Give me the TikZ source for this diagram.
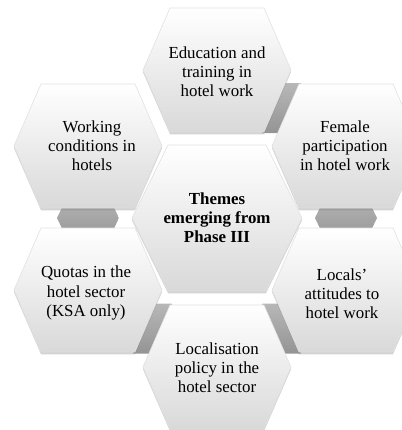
\documentclass[tikz,border=0pt]{standalone}
\usepackage{fontspec}
\setmainfont{Liberation Serif}
\usetikzlibrary{calc, shadows}

\tikzset{
  hexbox/.style={top color=white, bottom color=black!15, draw=black!12, line width=0.4pt,
    drop shadow={opacity=0.35, shadow xshift=0pt, shadow yshift=-1.6pt}},
  hexlink/.style={top color=black!28, bottom color=black!42, draw=none},
  hextext/.style={align=center, inner sep=0pt, font=\fontsize{12}{13.6}\selectfont},
}

% flat-topped hexagon: style, centre, half width, half height, slant
\newcommand{\hexagon}[5][hexbox]{%
  \path[#1] (#2) ++(-#3,0) -- ++(#5,-#4) -- ++({2*(#3-#5)},0) -- ++(#5,#4)
    -- ++(-#5,#4) -- ++({-2*(#3-#5)},0) -- cycle;}

\begin{document}
\begin{tikzpicture}[x=0.025cm, y=-0.025cm]

    \useasboundingbox (0,0) rectangle (402,430);

    % centres
    \coordinate (cMid) at (217,218);
    \coordinate (cTop) at (217,70);
    \coordinate (cFem) at (346,146);
    \coordinate (cLoc) at (346,290);
    \coordinate (cPol) at (217,367);
    \coordinate (cQuo) at (88,290);
    \coordinate (cWrk) at (88,146);

    % small grey links between neighbours
    \foreach \a/\b in {cTop/cFem, cFem/cLoc, cLoc/cPol, cPol/cQuo, cQuo/cWrk}
        \hexagon[hexlink]{$(\a)!0.5!(\b)$}{31}{25}{12};

    % outer hexagons
    \foreach \c in {cTop, cFem, cLoc, cPol, cQuo, cWrk}
        \hexagon{\c}{74}{62}{27};

    % centre hexagon
    \hexagon{cMid}{85}{73}{36};

    \node[hextext] (top) at ($(cTop)+(0,2)$) {Education and\\training in\\hotel work};
    \node[hextext] (fem) at ($(cFem)+(-1,0)$) {Female\\participation\\in hotel work};
    \node[hextext] (loc) at ($(cLoc)+(-4,4)$) {Locals'\\attitudes to\\hotel work};
    \node[hextext] (pol) at ($(cPol)+(0,1)$) {Localisation\\policy in the\\hotel sector};
    \node[hextext] (quo) at ($(cQuo)+(-2,3)$) {Quotas in the\\hotel sector\\(KSA only)};
    \node[hextext] (wrk) at ($(cWrk)+(4,0)$) {Working\\conditions in\\hotels};
    \node[hextext, font=\fontsize{12}{13.6}\selectfont\bfseries] (mid) at (cMid) {Themes\\emerging from\\Phase III};

\end{tikzpicture}
\end{document}
